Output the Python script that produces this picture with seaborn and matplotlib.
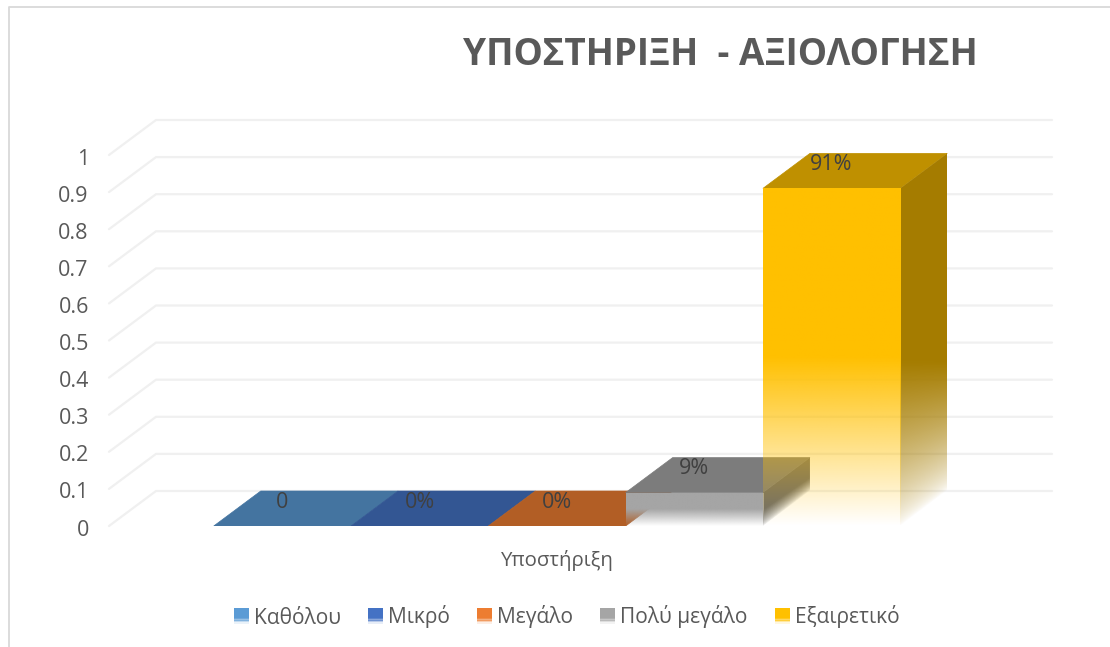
import numpy as np
import pandas as pd
import matplotlib
matplotlib.use("Agg")
import matplotlib.pyplot as plt
from matplotlib.colors import to_rgb
from matplotlib.legend_handler import HandlerPatch
from matplotlib.lines import Line2D
from matplotlib.patches import Patch, Polygon, Rectangle
from matplotlib.transforms import ScaledTranslation
import seaborn as sns

CATEGORY = "Υποστήριξη"
SERIES = ["Καθόλου", "Μικρό", "Μεγάλο", "Πολύ μεγάλο", "Εξαιρετικό"]
VALUES = [0.0, 0.0, 0.0, 0.09, 0.91]
LABELS = ["0", "0%", "0%", "9%", "91%"]
COLORS = ["#5B9BD5", "#4472C4", "#ED7D31", "#A5A5A5", "#FFC000"]
Y_TICKS = [0, 0.1, 0.2, 0.3, 0.4, 0.5, 0.6, 0.7, 0.8, 0.9, 1]
Y_LABELS = ["0", "0.1", "0.2", "0.3", "0.4", "0.5", "0.6", "0.7", "0.8", "0.9", "1"]
TITLE = "ΥΠΟΣΤΗΡΙΞΗ  - ΑΞΙΟΛΟΓΗΣΗ"

W, H = 1110, 647
sns.set_theme(style="white")
plt.rcParams["font.family"] = ["Open Sans", "DejaVu Sans"]
TEXT = "#595959"

fig = plt.figure(figsize=(W / 100, H / 100), dpi=100)
# axes box in pixels: front wall starts at x=109, back wall ends at x=1052
L, R, B, T = 109, 1052, 526, 120
ax = fig.add_axes([L / W, 1 - B / H, (R - L) / W, (B - T) / H])

df = pd.DataFrame({"cat": [CATEGORY] * len(SERIES), "series": SERIES, "value": VALUES})
sns.barplot(data=df, x="cat", y="value", hue="series", hue_order=SERIES,
            palette=COLORS, width=686.5 / 896, gap=0, legend=False, ax=ax, zorder=3)

UNIT_PX_X, UNIT_PX_Y = 896, 371
DX, DY = 47 / UNIT_PX_X, 35 / UNIT_PX_Y
XMIN, XMAX = -0.5, -0.5 + (R - L) / UNIT_PX_X
YMAX = 1 + DY


def shade(color, f):
    return tuple(c * f for c in to_rgb(color))


def front_gradient(color, x0, x1, h, clip, zorder):
    """Front face: solid in the upper half, fading out to the floor."""
    ys = np.linspace(0, h, 400)
    img = np.zeros((400, 2, 4))
    img[..., :3] = to_rgb(color)
    img[..., 3] = np.clip(ys / (0.5 * h), 0, 1)[:, None]
    im = ax.imshow(img, extent=(x0, x1, 0, h), origin="lower", aspect="auto",
                   zorder=zorder, interpolation="bilinear")
    im.set_clip_path(clip)


def side_gradient(color, x0, x1, h, clip, zorder):
    """Side face: the fade foot follows the slanted floor edge."""
    xs = np.linspace(0, 1, 60)
    ys = np.linspace(0, h + DY, 400)
    tt, yy = np.meshgrid(xs, ys)
    band = h * (0.485 - 0.105 * tt)
    a = np.clip((yy - tt * DY) / band, 0, 1) ** 0.7
    img = np.zeros((400, 60, 4))
    img[..., :3] = to_rgb(color)
    img[..., 3] = a
    im = ax.imshow(img, extent=(x0, x1, 0, h + DY), origin="lower", aspect="auto",
                   zorder=zorder, interpolation="bilinear")
    im.set_clip_path(clip)


# back wall grid and the slanted floor/side lines
GRID = "#F0F0F0"
for v in Y_TICKS:
    ax.plot([XMIN, XMIN + DX, XMAX], [v, v + DY, v + DY], color=GRID, lw=1.6,
            zorder=1, clip_on=False, solid_joinstyle="miter")

bars = list(ax.patches)
for i, (bar, col, val, lab) in enumerate(zip(bars, COLORS, VALUES, LABELS)):
    x0, w = bar.get_x(), bar.get_width()
    x1 = x0 + w
    z = 3 + i * 0.1
    bar.set_facecolor("none")
    bar.set_edgecolor("none")
    # top face
    top = shade(col, 0.75)
    ax.add_patch(Polygon([(x0, val), (x1, val), (x1 + DX, val + DY), (x0 + DX, val + DY)],
                         closed=True, fc=top, ec=top, lw=0.5, zorder=z))
    if val > 0:
        # side face
        side = Polygon([(x1, 0), (x1 + DX, DY), (x1 + DX, val + DY), (x1, val)],
                       closed=True, transform=ax.transData, fc="none", ec="none")
        ax.add_patch(side)
        side_gradient(shade(col, 0.65), x1, x1 + DX, val, side, z + 0.01)
        # front face
        clip = Rectangle((x0, 0), w, val, transform=ax.transData, fc="none", ec="none")
        ax.add_patch(clip)
        front_gradient(col, x0, x1, val, clip, z + 0.02)
    ax.annotate(lab, (x0 + w / 2, val), xytext=(0, 24 * 0.72), textcoords="offset points",
                ha="center", va="center", fontsize=15.5, color="#404040", zorder=10)

ax.set_xlim(XMIN, XMAX)
ax.set_ylim(0, YMAX)
ax.set_yticks(Y_TICKS, Y_LABELS)
ax.set_xlabel("")
ax.set_ylabel("")
ax.tick_params(axis="y", length=0, pad=14.5, labelsize=15.5, labelcolor=TEXT)
ax.tick_params(axis="x", length=0, pad=17.5, labelsize=14.7, labelcolor=TEXT)
# the tick labels sit a little below their grid level
nudge = ScaledTranslation(0, -1.1 / 72, fig.dpi_scale_trans)
for t in ax.get_yticklabels():
    t.set_transform(t.get_transform() + nudge)
sns.despine(ax=ax, left=True, bottom=True)
ax.patch.set_alpha(0)


class FadeHandler(HandlerPatch):
    def create_artists(self, legend, orig, xd, yd, width, height, fontsize, trans):
        arts = []
        n = 10
        for k in range(n):
            frac = (k + 0.5) / n
            alpha = min(1, frac / 0.4)
            arts.append(Rectangle((-xd, -yd + k * height / n), width, height / n + 0.2,
                                  fc=orig.get_facecolor()[:3], alpha=alpha, ec="none",
                                  transform=trans))
        return arts


handles = [Patch(facecolor=c, label=s) for c, s in zip(COLORS, SERIES)]
leg = fig.legend(handles=handles, labels=SERIES, loc="center", ncol=5,
                 bbox_to_anchor=(566.5 / W, 1 - 617 / H), frameon=False, fontsize=15.1,
                 labelcolor=TEXT, handlelength=0.72, handleheight=0.72,
                 handletextpad=0.25, columnspacing=1.28,
                 handler_map={Patch: FadeHandler()})

fig.text(720 / W, 1 - 55 / H, TITLE, ha="center", va="center", fontsize=26.6,
         fontweight="bold", color=TEXT)

FRAME = "#D9D9D9"
fig.add_artist(Line2D([8.5 / W, 8.5 / W, 1], [0, 1 - 7 / H, 1 - 7 / H],
                      transform=fig.transFigure, color=FRAME, lw=1.3))

fig.savefig("out.png", dpi=100, facecolor="white")
